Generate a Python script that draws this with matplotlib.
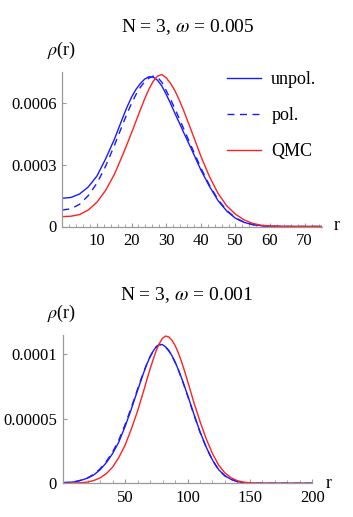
import numpy as np
import matplotlib
matplotlib.use("Agg")
import matplotlib.pyplot as plt
from matplotlib.ticker import FixedLocator

plt.rcParams['font.family'] = ['Liberation Serif', 'DejaVu Serif']
plt.rcParams['mathtext.fontset'] = 'stix'

# panel 1: N = 3, omega = 0.005  (values in units of 1e-4)
r1 = [0, 2.5, 5, 7.5, 10, 12.5, 15, 16.25, 17.5, 18.75, 20, 21.25, 22.5, 23.75, 25, 26.25,
      27.5, 28.75, 30, 31.25, 32.5, 33.75, 35, 36.25, 37.5, 40, 42.5, 45, 47.5, 50, 52.5,
      55, 57.5, 60, 62.5, 65, 67.5, 70, 72.5, 75]
unpol1 = [1.37, 1.41, 1.58, 1.92, 2.45, 3.28, 4.22, 4.76, 5.30, 5.82, 6.28, 6.65, 6.93,
          7.15, 7.27, 7.25, 7.10, 6.82, 6.42, 5.98, 5.50, 5.05, 4.58, 4.13, 3.68, 2.75,
          1.95, 1.25, 0.75, 0.40, 0.20, 0.09, 0.04, 0.015, 0.005, 0.002, 0.0005, 0, 0, 0]
pol1 = [0.80, 0.86, 1.08, 1.50, 2.10, 2.92, 3.92, 4.45, 4.98, 5.50, 5.98, 6.40, 6.75,
        7.02, 7.20, 7.30, 7.25, 7.00, 6.60, 6.18, 5.72, 5.25, 4.77, 4.28, 3.80, 2.85,
        2.00, 1.30, 0.78, 0.42, 0.21, 0.09, 0.04, 0.015, 0.005, 0.002, 0.0005, 0, 0, 0]
qmc1 = [0.48, 0.50, 0.58, 0.80, 1.18, 1.75, 2.52, 3.00, 3.50, 4.02, 4.55, 5.10, 5.65,
        6.18, 6.66, 7.05, 7.30, 7.38, 7.22, 6.95, 6.60, 6.15, 5.65, 5.10, 4.55, 3.42,
        2.42, 1.60, 1.00, 0.60, 0.32, 0.15, 0.06, 0.025, 0.01, 0.004, 0.001, 0, 0, 0]

# panel 2: N = 3, omega = 0.001  (values in units of 1e-5)
r2 = [0, 5, 10, 15, 20, 25, 30, 35, 40, 45, 50, 55, 60, 62.5, 65, 67.5, 70, 72.5, 75,
      77.5, 80, 82.5, 85, 87.5, 90, 92.5, 95, 97.5, 100, 105, 110, 115, 120, 125, 130,
      135, 140, 145, 150, 155, 160, 170, 180, 190, 200]
unpol2 = [0.05, 0.07, 0.12, 0.24, 0.40, 0.65, 1.05, 1.60, 2.30, 3.20, 4.40, 5.75, 7.20,
          7.90, 8.60, 9.25, 9.80, 10.25, 10.60, 10.78, 10.75, 10.58, 10.30, 9.90, 9.42,
          8.85, 8.22, 7.55, 6.85, 5.40, 4.00, 2.80, 1.80, 1.05, 0.58, 0.30, 0.13, 0.05,
          0.02, 0.008, 0.003, 0, 0, 0, 0]
pol2 = [0.05, 0.07, 0.12, 0.25, 0.42, 0.70, 1.12, 1.70, 2.42, 3.35, 4.55, 5.88, 7.30,
        8.00, 8.65, 9.28, 9.82, 10.25, 10.58, 10.75, 10.72, 10.55, 10.28, 9.88, 9.40,
        8.83, 8.20, 7.52, 6.82, 5.35, 3.97, 2.78, 1.78, 1.04, 0.57, 0.30, 0.13, 0.05,
        0.02, 0.008, 0.003, 0, 0, 0, 0]
qmc2 = [0, 0.005, 0.02, 0.05, 0.10, 0.22, 0.42, 0.75, 1.25, 2.00, 2.95, 4.20, 5.60,
        6.40, 7.20, 8.05, 8.85, 9.60, 10.30, 10.85, 11.25, 11.42, 11.35, 11.10, 10.70,
        10.15, 9.50, 8.75, 7.95, 6.30, 4.80, 3.45, 2.30, 1.40, 0.80, 0.42, 0.20, 0.09,
        0.04, 0.015, 0.005, 0, 0, 0, 0]

W, H = 353, 517
fig = plt.figure(figsize=(W / 100, H / 100), dpi=100)

blue = '#1a1aff'
red = '#ff2020'
gray = '#999999'


def style(ax):
    for s in ['top', 'right']:
        ax.spines[s].set_visible(False)
    for s in ['left', 'bottom']:
        ax.spines[s].set_color(gray)
        ax.spines[s].set_linewidth(0.9)
    ax.tick_params(axis='both', which='both', direction='in', color=gray, labelsize=12)
    ax.tick_params(axis='x', which='major', length=3, pad=5)
    ax.tick_params(axis='x', which='minor', length=2)
    ax.tick_params(axis='y', which='major', length=3, pad=4)


# top panel
ax1 = fig.add_axes([62.3 / W, 1 - 226.5 / H, 259.7 / W, 154.5 / H])
ax1.plot(r1, np.array(unpol1) * 1e-4, color=blue, lw=1.0, label='unpol.')
ax1.plot(r1, np.array(pol1) * 1e-4, color=blue, lw=1.0, dashes=(5, 4), label='pol.')
ax1.plot(r1, np.array(qmc1) * 1e-4, color=red, lw=1.0, label='QMC')
ax1.set_xlim(0, 75)
ax1.set_ylim(0, 0.00075)
ax1.set_xticks([10, 20, 30, 40, 50, 60, 70])
ax1.xaxis.set_minor_locator(FixedLocator([x for x in range(2, 75, 2) if x % 10]))
ax1.set_yticks([0, 0.0003, 0.0006])
ax1.set_yticklabels(['0', '0.0003', '0.0006'])
style(ax1)
ax1.legend(loc='upper left', bbox_to_anchor=(227 / W, 1 - 71 / H), bbox_transform=fig.transFigure,
           frameon=False, fontsize=13, handlelength=1.9, handletextpad=0.55,
           labelspacing=1.05, borderpad=0, borderaxespad=0)

# bottom panel
ax2 = fig.add_axes([62.6 / W, 1 - 483.3 / H, 249.8 / W, 148.3 / H])
ax2.plot(r2, np.array(unpol2) * 1e-5, color=blue, lw=1.0)
ax2.plot(r2, np.array(pol2) * 1e-5, color=blue, lw=1.0, dashes=(5, 4))
ax2.plot(r2, np.array(qmc2) * 1e-5, color=red, lw=1.0)
ax2.set_xlim(0, 200)
ax2.set_ylim(0, 0.000115)
ax2.set_xticks([50, 100, 150, 200])
ax2.xaxis.set_minor_locator(FixedLocator([x for x in range(10, 200, 10) if x % 50]))
ax2.set_yticks([0, 0.00005, 0.0001])
ax2.set_yticklabels(['0', '0.00005', '0.0001'])
style(ax2)

# titles and axis labels
fig.text(188 / W, 1 - 27 / H, r'N = 3, $\omega$ = 0.005', ha='center', va='center', fontsize=14)
fig.text(187 / W, 1 - 295 / H, r'N = 3, $\omega$ = 0.001', ha='center', va='center', fontsize=14)
fig.text(62 / W, 1 - 50 / H, r'$\rho$(r)', ha='center', va='center', fontsize=13)
fig.text(62 / W, 1 - 313 / H, r'$\rho$(r)', ha='center', va='center', fontsize=13)
fig.text(337 / W, 1 - 226 / H, 'r', ha='center', va='center', fontsize=13)
fig.text(329 / W, 1 - 484 / H, 'r', ha='center', va='center', fontsize=13)

fig.savefig('out.png', dpi=100)
